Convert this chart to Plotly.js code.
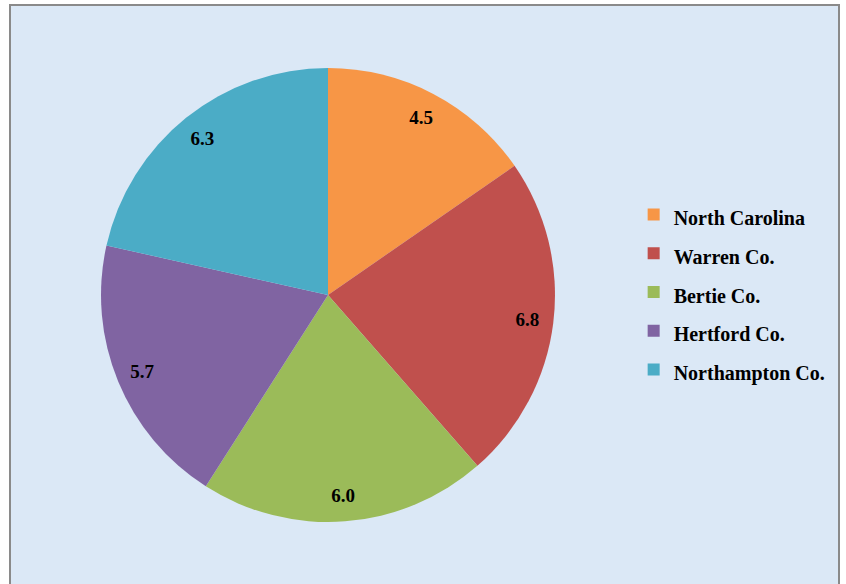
<!DOCTYPE html>
<html>
<head>
<meta charset="utf-8">
<script src="https://cdn.plot.ly/plotly-3.0.1.min.js"></script>
<style>html,body{margin:0;padding:0;background:#fff;}#chart{width:846px;height:584px;}</style>
</head>
<body>
<div id="chart"></div>
<script>
const categories = ["North Carolina", "Warren Co.", "Bertie Co.", "Hertford Co.", "Northampton Co."];
const values = [4.5, 6.8, 6.0, 5.7, 6.3];
const colors = ["#F79646", "#C0504D", "#9BBB59", "#8064A2", "#4BACC6"];

const domain = {x: [0.1194, 0.656], y: [0.1062, 0.8836]};

// legend text drawn smaller than the row height to reproduce the wide row spacing
const legendLabels = categories.map(c => "<span style='font-size:20px'>" + c + "</span>");

const mainPie = {
  type: "pie",
  labels: legendLabels,
  values: values,
  sort: false,
  direction: "clockwise",
  rotation: 0,
  marker: {colors: colors, line: {width: 0}},
  textinfo: "none",
  hoverinfo: "value",
  domain: domain,
  showlegend: true
};

// transparent ring used only to place the value labels near the rim
const labelRing = {
  type: "pie",
  labels: legendLabels,
  values: values,
  sort: false,
  direction: "clockwise",
  rotation: 0,
  hole: 0.77,
  marker: {colors: categories.map(() => "rgba(0,0,0,0)"), line: {width: 0}},
  texttemplate: "%{value:.1f}",
  textposition: "inside",
  insidetextorientation: "horizontal",
  textfont: {family: "Liberation Serif", size: 19, color: "#000", weight: "bold"},
  hoverinfo: "skip",
  domain: domain,
  showlegend: false
};

const layout = {
  width: 846, height: 584,
  margin: {l: 0, r: 0, t: 0, b: 0},
  paper_bgcolor: "#ffffff",
  shapes: [{
    type: "rect", xref: "paper", yref: "paper",
    x0: 10/846, x1: 839/846, y0: -0.02, y1: 1 - 5/584,
    fillcolor: "#dbe8f6", line: {color: "#8a8a8a", width: 2}, layer: "below"
  }],
  legend: {
    x: 0.749, y: 0.50, xanchor: "left", yanchor: "middle",
    bgcolor: "rgba(0,0,0,0)",
    font: {family: "Liberation Serif", size: 27.5, color: "#000", weight: "bold"},
    traceorder: "normal"
  },
  showlegend: true
};

Plotly.newPlot("chart", [mainPie, labelRing], layout, {displayModeBar: false, staticPlot: true});
</script>
</body>
</html>
